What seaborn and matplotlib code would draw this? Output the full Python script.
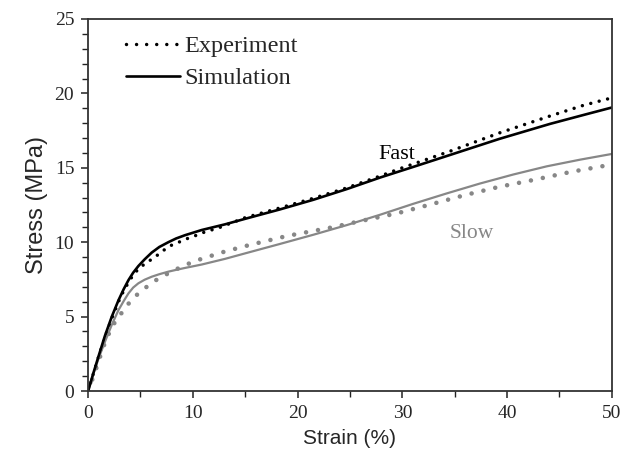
import numpy as np
import matplotlib
matplotlib.use("Agg")
import matplotlib.pyplot as plt
import seaborn as sns
from matplotlib.lines import Line2D
from matplotlib.ticker import MultipleLocator

# ---- data ----
fast_sim_strain = [0, 0.5, 1.0, 1.6, 2.26, 2.9, 3.4, 3.85, 4.3, 4.8, 5.4, 6.07, 6.8, 7.66, 8.4,
                   9.25, 10.85, 13.07, 15.14, 18.3, 21.5, 24.7, 27.9, 31, 34.5, 39.3, 44.1, 47.3, 50]
fast_sim_stress = [0, 1.2, 2.35, 3.7, 5.0, 6.1, 6.85, 7.45, 7.95, 8.4, 8.85, 9.3, 9.68, 10.0, 10.25,
                   10.47, 10.82, 11.2, 11.6, 12.2, 12.85, 13.57, 14.35, 15.05, 15.85, 16.95, 17.95, 18.55, 19.05]

fast_exp_strain = [0, 0.5, 1.0, 1.6, 2.3, 2.9, 3.4, 3.9, 4.3, 4.8, 5.5, 6.3, 7.0, 7.8, 8.5, 9.3, 10.1,
                   11.0, 12.6, 15, 18.3, 21.5, 24.7, 27.9, 29.8, 34.5, 39.3, 44.1, 47.3, 50]
fast_exp_stress = [0, 1.15, 2.3, 3.6, 4.95, 6.0, 6.75, 7.35, 7.8, 8.2, 8.6, 8.95, 9.35, 9.75, 9.95, 10.2,
                   10.4, 10.65, 11.0, 11.65, 12.3, 12.95, 13.65, 14.45, 14.95, 16.1, 17.35, 18.48, 19.2, 19.7]

slow_sim_strain = [0, 0.5, 1.0, 1.6, 2.26, 2.9, 3.4, 3.85, 4.3, 4.8, 5.4, 6.07, 6.8, 7.66, 8.4,
                   9.25, 10.85, 13.07, 15.1, 18.3, 21.5, 24.7, 27.9, 31, 34.2, 37.4, 40.6, 43.8, 47, 50]
slow_sim_stress = [0, 1.15, 2.2, 3.3, 4.45, 5.44, 6.05, 6.56, 6.95, 7.24, 7.48, 7.68, 7.85, 8.02, 8.14,
                   8.27, 8.5, 8.88, 9.27, 9.88, 10.5, 11.15, 11.85, 12.57, 13.27, 13.94, 14.55, 15.1, 15.55, 15.93]

slow_exp_strain = [0, 0.67, 1.46, 2.26, 3.28, 4.0, 4.8, 5.7, 6.65, 7.66, 8.8, 9.8, 10.9, 12.0, 13.0,
                   15.4, 19.0, 23.1, 27.2, 29.5, 32.5, 36.0, 39.3, 42.5, 46.2, 50]
slow_exp_stress = [0, 1.3, 2.98, 4.32, 5.33, 6.0, 6.56, 7.06, 7.53, 7.91, 8.31, 8.62, 8.9, 9.14, 9.36,
                   9.81, 10.42, 10.97, 11.6, 11.94, 12.5, 13.17, 13.73, 14.18, 14.74, 15.22]

legend_labels = ["Experiment", "Simulation"]
curve_labels = ["Fast", "Slow"]

# ---- styling ----
sns.set_style("ticks")
serif = ["Liberation Serif", "DejaVu Serif"]
sans = ["Liberation Sans", "DejaVu Sans"]
plt.rcParams["font.family"] = sans

BLACK = "#000000"
GREY = "#878787"

fig = plt.figure(figsize=(6.34, 4.63), dpi=100)
ax = fig.add_axes([0.139, 0.1555, 0.826, 0.8035])

# experiments (dotted)
sns.lineplot(x=slow_exp_strain, y=slow_exp_stress, ax=ax, color=GREY, lw=3.3,
             linestyle=(0, (0.001, 2.65)), dash_capstyle="round", sort=False)
sns.lineplot(x=fast_exp_strain, y=fast_exp_stress, ax=ax, color=BLACK, lw=2.5,
             linestyle=(0, (0.001, 2.5)), dash_capstyle="round", sort=False)
# simulations (solid)
sns.lineplot(x=slow_sim_strain, y=slow_sim_stress, ax=ax, color=GREY, lw=1.6, sort=False)
sns.lineplot(x=fast_sim_strain, y=fast_sim_stress, ax=ax, color=BLACK, lw=1.9, sort=False)

ax.set_xlim(0, 50)
ax.set_ylim(0, 25)
ax.xaxis.set_major_locator(MultipleLocator(10))
ax.xaxis.set_minor_locator(MultipleLocator(5))
ax.yaxis.set_major_locator(MultipleLocator(5))
ax.yaxis.set_minor_locator(MultipleLocator(1))
ax.tick_params(which="major", direction="out", length=5, width=1.1, color="#222222",
               labelsize=14, pad=5)
ax.tick_params(which="minor", direction="out", length=4, width=1.0, color="#222222")
for lab in ax.get_xticklabels() + ax.get_yticklabels():
    lab.set_family(serif)
for sp in ax.spines.values():
    sp.set_visible(True)
    sp.set_color("#333333")
    sp.set_linewidth(1.3)

ax.set_xlabel("Strain (%)", fontsize=15, family=sans, labelpad=5)
ax.set_ylabel("Stress (MPa)", fontsize=17, family=sans, labelpad=5)

ax.text(29.5, 15.9, curve_labels[0], fontsize=16, family=serif, color=BLACK,
        ha="center", va="center")
ax.text(36.6, 10.6, curve_labels[1], fontsize=15.5, family=serif, color=GREY,
        ha="center", va="center")

handles = [
    Line2D([0], [0], color=BLACK, lw=2.5, linestyle=(0, (0.001, 2.9)), dash_capstyle="round"),
    Line2D([0], [0], color=BLACK, lw=1.9),
]
leg = ax.legend(handles, legend_labels, loc="upper left", bbox_to_anchor=(0.045, 0.995),
                frameon=False, prop={"family": serif, "size": 17.5}, handlelength=2.2,
                handletextpad=0.2, labelspacing=0.4, borderaxespad=0.2)

fig.savefig("out.png", dpi=100)
